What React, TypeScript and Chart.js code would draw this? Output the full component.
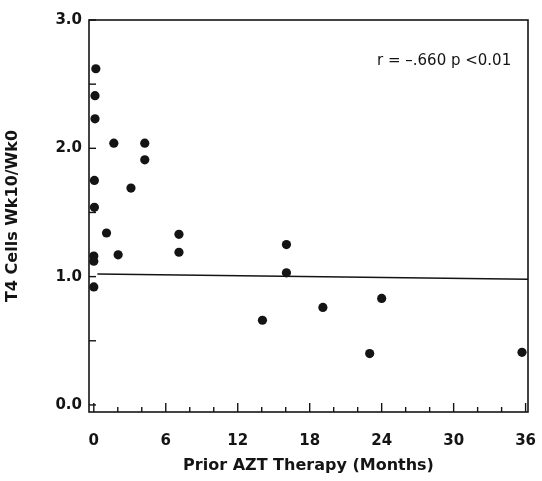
import React, { useEffect, useRef } from "react";
import { Chart, registerables } from "chart.js";

Chart.register(...registerables);

// Scatter data: prior AZT therapy (months) vs T4 cells ratio Wk10/Wk0
const monthsValues = [0.17, 0.1, 0.1, 1.67, 4.25, 4.25, 0.05, 3.1, 0.05, 1.06, 7.1, 2.03, 7.1, 0.0, 0.0, 0.0, 16.06, 16.06, 14.06, 19.1, 24.0, 23.0, 35.7];
const ratioValues = [2.62, 2.41, 2.23, 2.04, 2.04, 1.91, 1.75, 1.69, 1.54, 1.34, 1.33, 1.17, 1.19, 1.16, 1.12, 0.92, 1.25, 1.03, 0.66, 0.76, 0.83, 0.4, 0.41];

// Reference line near 1.0
const refLineX = [0.3, 36.2];
const refLineY = [1.02, 0.98];

// Axis ticks
const xTickValues = [0, 6, 12, 18, 24, 30, 36];
const xMinorTicks = [0, 2, 4, 6, 8, 10, 12, 14, 16, 18, 20, 22, 24, 26, 28, 30, 32, 34, 36];
const yTickValues = [0, 1, 2, 3];
const yTickLabels = ["0.0", "1.0", "2.0", "3.0"];
const yMinorTicks = [0, 0.5, 1, 1.5, 2, 2.5, 3];

const xAxisTitle = "Prior AZT Therapy (Months)";
const yAxisTitle = "T4 Cells Wk10/Wk0";
const annotationText = "r = \u2013.660 p <0.01";
const annotationAt = { x: 34.8, y: 2.68 };

const INK = "#141414";
const FONT = "'DejaVu Sans', sans-serif";

const framePlugin = {
  id: "framePlugin",
  afterDatasetsDraw(chart: any) {
    const { ctx, chartArea, scales } = chart;
    const xs = scales.x;
    const ys = scales.y;
    ctx.save();
    ctx.strokeStyle = INK;
    ctx.lineWidth = 1.6;
    ctx.strokeRect(chartArea.left, chartArea.top, chartArea.right - chartArea.left, chartArea.bottom - chartArea.top);
    ctx.lineWidth = 1.4;
    // x tick marks (inward)
    xMinorTicks.forEach((v) => {
      const px = xs.getPixelForValue(v);
      const len = xTickValues.includes(v) ? 9 : 5;
      ctx.beginPath();
      ctx.moveTo(px, chartArea.bottom);
      ctx.lineTo(px, chartArea.bottom - len);
      ctx.stroke();
    });
    // y tick marks (inward)
    yMinorTicks.forEach((v) => {
      const py = ys.getPixelForValue(v);
      ctx.beginPath();
      ctx.moveTo(chartArea.left, py);
      ctx.lineTo(chartArea.left + 7, py);
      ctx.stroke();
    });
    // annotation
    ctx.fillStyle = INK;
    ctx.font = `15px ${FONT}`;
    ctx.textAlign = "right";
    ctx.textBaseline = "middle";
    ctx.fillText(annotationText, xs.getPixelForValue(annotationAt.x), ys.getPixelForValue(annotationAt.y));
    ctx.restore();
  },
};

export default function App() {
  const canvasRef = useRef<HTMLCanvasElement | null>(null);

  useEffect(() => {
    if (!canvasRef.current) return;
    const points = monthsValues.map((x, i) => ({ x, y: ratioValues[i] }));
    const refLine = refLineX.map((x, i) => ({ x, y: refLineY[i] }));
    const chart = new Chart(canvasRef.current, {
      type: "scatter",
      data: {
        datasets: [
          {
            type: "line",
            data: refLine,
            borderColor: INK,
            borderWidth: 1.5,
            pointRadius: 0,
            fill: false,
          } as any,
          {
            data: points,
            backgroundColor: INK,
            borderColor: INK,
            pointRadius: 4.6,
            pointBorderWidth: 0,
            clip: false,
          } as any,
        ],
      },
      options: {
        responsive: false,
        animation: false,
        layout: { padding: { left: 0, top: 20, right: 14, bottom: 0 } },
        plugins: {
          legend: { display: false },
          tooltip: { enabled: false },
        },
        scales: {
          x: {
            type: "linear",
            min: -0.4,
            max: 36.2,
            afterBuildTicks: (s: any) => {
              s.ticks = xTickValues.map((v) => ({ value: v }));
            },
            afterFit: (s: any) => {
              s.height = 69;
              s.paddingLeft = 0;
              s.paddingRight = 0;
            },
            grid: { display: false, drawTicks: false },
            border: { display: false },
            ticks: {
              autoSkip: false,
              maxRotation: 0,
              padding: 20,
              color: INK,
              font: { family: FONT, size: 15, weight: "bold" },
              callback: (v: any) => String(v),
            },
            title: {
              display: true,
              text: xAxisTitle,
              color: INK,
              font: { family: FONT, size: 16, weight: "bold" },
              padding: { top: 0, bottom: 6 },
            },
          },
          y: {
            type: "linear",
            min: -0.055,
            max: 3.0,
            afterBuildTicks: (s: any) => {
              s.ticks = yTickValues.map((v) => ({ value: v }));
            },
            afterFit: (s: any) => {
              s.width = 89;
              s.paddingTop = 0;
              s.paddingBottom = 0;
            },
            grid: { display: false, drawTicks: false },
            border: { display: false },
            ticks: {
              autoSkip: false,
              padding: 7,
              color: INK,
              font: { family: FONT, size: 15, weight: "bold" },
              callback: (v: any) => {
                const i = yTickValues.indexOf(Number(v));
                return i >= 0 ? yTickLabels[i] : "";
              },
            },
            title: {
              display: true,
              text: yAxisTitle,
              color: INK,
              font: { family: FONT, size: 16, weight: "bold" },
              padding: { top: 3, bottom: 0 },
            },
          },
        },
      },
      plugins: [framePlugin],
    });
    return () => chart.destroy();
  }, []);

  return (
    <div style={{ position: "absolute", left: 0, top: 0, width: 542, height: 481, background: "#fff" }}>
      <canvas ref={canvasRef} width={542} height={481} style={{ display: "block", width: 542, height: 481 }} />
    </div>
  );
}
